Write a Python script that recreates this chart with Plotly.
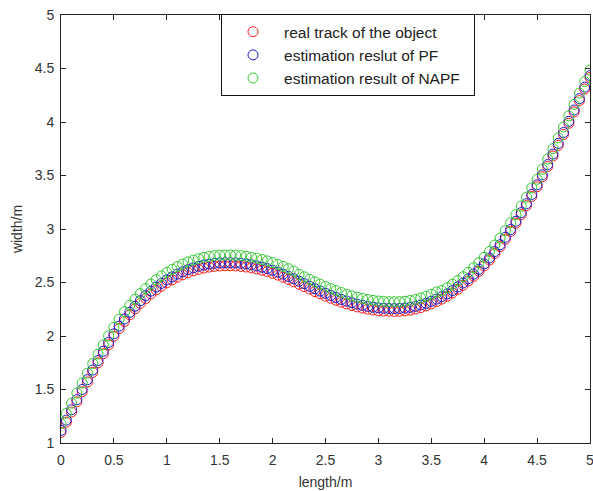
import plotly.graph_objects as go

length_m = [0.00, 0.05, 0.10, 0.15, 0.20, 0.25, 0.30, 0.35, 0.40, 0.45,
            0.50, 0.55, 0.60, 0.65, 0.70, 0.75, 0.80, 0.85, 0.90, 0.95,
            1.00, 1.05, 1.10, 1.15, 1.20, 1.25, 1.30, 1.35, 1.40, 1.45,
            1.50, 1.55, 1.60, 1.65, 1.70, 1.75, 1.80, 1.85, 1.90, 1.95,
            2.00, 2.05, 2.10, 2.15, 2.20, 2.25, 2.30, 2.35, 2.40, 2.45,
            2.50, 2.55, 2.60, 2.65, 2.70, 2.75, 2.80, 2.85, 2.90, 2.95,
            3.00, 3.05, 3.10, 3.15, 3.20, 3.25, 3.30, 3.35, 3.40, 3.45,
            3.50, 3.55, 3.60, 3.65, 3.70, 3.75, 3.80, 3.85, 3.90, 3.95,
            4.00, 4.05, 4.10, 4.15, 4.20, 4.25, 4.30, 4.35, 4.40, 4.45,
            4.50, 4.55, 4.60, 4.65, 4.70, 4.75, 4.80, 4.85, 4.90, 4.95,
            5.00]

real_track = [1.100, 1.195, 1.290, 1.385, 1.479, 1.571, 1.661, 1.749, 1.835, 1.918,
              1.998, 2.070, 2.137, 2.198, 2.254, 2.305, 2.351, 2.393, 2.431, 2.466,
              2.497, 2.525, 2.550, 2.572, 2.592, 2.609, 2.623, 2.635, 2.644, 2.651,
              2.655, 2.657, 2.657, 2.655, 2.651, 2.645, 2.637, 2.627, 2.615, 2.602,
              2.586, 2.569, 2.550, 2.529, 2.507, 2.484, 2.461, 2.438, 2.415, 2.394,
              2.373, 2.353, 2.334, 2.316, 2.300, 2.285, 2.272, 2.261, 2.251, 2.243,
              2.237, 2.233, 2.231, 2.230, 2.231, 2.235, 2.242, 2.252, 2.265, 2.281,
              2.300, 2.322, 2.345, 2.372, 2.403, 2.437, 2.474, 2.515, 2.558, 2.605,
              2.655, 2.710, 2.770, 2.835, 2.905, 2.978, 3.055, 3.135, 3.218, 3.305,
              3.395, 3.488, 3.584, 3.682, 3.782, 3.884, 3.988, 4.094, 4.200, 4.308,
              4.416]

pf_estimate = [1.118, 1.214, 1.311, 1.405, 1.500, 1.592, 1.682, 1.771, 1.857, 1.940,
               2.020, 2.093, 2.160, 2.222, 2.278, 2.330, 2.376, 2.419, 2.457, 2.492,
               2.524, 2.552, 2.578, 2.600, 2.620, 2.637, 2.651, 2.663, 2.672, 2.679,
               2.683, 2.685, 2.685, 2.683, 2.679, 2.673, 2.665, 2.655, 2.643, 2.630,
               2.614, 2.597, 2.578, 2.557, 2.535, 2.512, 2.489, 2.465, 2.442, 2.420,
               2.399, 2.379, 2.360, 2.342, 2.326, 2.311, 2.298, 2.287, 2.277, 2.269,
               2.263, 2.259, 2.257, 2.256, 2.257, 2.261, 2.268, 2.277, 2.290, 2.305,
               2.324, 2.345, 2.368, 2.394, 2.425, 2.458, 2.495, 2.535, 2.578, 2.624,
               2.674, 2.729, 2.789, 2.853, 2.923, 2.996, 3.073, 3.153, 3.236, 3.323,
               3.413, 3.506, 3.602, 3.700, 3.800, 3.902, 4.006, 4.112, 4.218, 4.326,
               4.434]

napf_estimate = [1.182, 1.277, 1.372, 1.467, 1.561, 1.653, 1.743, 1.831, 1.917, 2.001,
                 2.083, 2.158, 2.226, 2.288, 2.345, 2.396, 2.443, 2.486, 2.526, 2.562,
                 2.594, 2.623, 2.649, 2.672, 2.692, 2.709, 2.723, 2.735, 2.744, 2.751,
                 2.755, 2.757, 2.757, 2.755, 2.751, 2.745, 2.737, 2.727, 2.715, 2.702,
                 2.686, 2.669, 2.650, 2.629, 2.606, 2.576, 2.553, 2.529, 2.506, 2.484,
                 2.463, 2.443, 2.424, 2.406, 2.390, 2.375, 2.362, 2.351, 2.341, 2.333,
                 2.327, 2.323, 2.321, 2.320, 2.321, 2.325, 2.332, 2.342, 2.355, 2.371,
                 2.390, 2.412, 2.425, 2.452, 2.483, 2.517, 2.554, 2.595, 2.638, 2.685,
                 2.735, 2.790, 2.850, 2.915, 2.985, 3.058, 3.135, 3.215, 3.298, 3.385,
                 3.465, 3.558, 3.654, 3.752, 3.852, 3.954, 4.058, 4.164, 4.270, 4.378,
                 4.486]

series_names = ["real track of the object", "estimation reslut of PF", "estimation result of NAPF"]
series_colors = ["#ff1a1a", "#1a1acc", "#33c833"]

x_ticks = [0, 0.5, 1, 1.5, 2, 2.5, 3, 3.5, 4, 4.5, 5]
x_tick_labels = ["0", "0.5", "1", "1.5", "2", "2.5", "3", "3.5", "4", "4.5", "5"]
y_ticks = [1, 1.5, 2, 2.5, 3, 3.5, 4, 4.5, 5]
y_tick_labels = ["1", "1.5", "2", "2.5", "3", "3.5", "4", "4.5", "5"]

FONT = "Liberation Sans, Arial, sans-serif"

fig = go.Figure()
for name, ys, col in zip(series_names, [real_track, pf_estimate, napf_estimate], series_colors):
    fig.add_trace(go.Scatter(
        x=length_m, y=ys, mode="markers", name=name + "\u00a0" * 2,
        marker=dict(symbol="circle-open", size=10, color=col, line=dict(width=1, color=col)),
    ))

axis_common = dict(
    showline=True, linecolor="#222222", linewidth=1, mirror="ticks",
    ticks="inside", ticklen=5, tickcolor="#222222", tickwidth=1,
    showgrid=False, zeroline=False, automargin=False,
    ticklabeloverflow="allow",
    tickfont=dict(family=FONT, size=14, color="#333333"),
    title_font=dict(family=FONT, size=14, color="#333333"),
)

fig.update_xaxes(range=[0, 5], tickvals=x_ticks, ticktext=x_tick_labels,
                 ticklabelstandoff=4,
                 title_text="length/m", title_standoff=10, **axis_common)
fig.update_yaxes(range=[1, 5], tickvals=y_ticks, ticktext=y_tick_labels,
                 ticklabelstandoff=3,
                 title_text="width/m", title_standoff=8, **axis_common)

fig.update_layout(
    width=593, height=491,
    margin=dict(l=61, r=3, t=15, b=48, autoexpand=False),
    paper_bgcolor="white", plot_bgcolor="white",
    showlegend=True,
    legend=dict(
        x=0.3025, y=1.002, xanchor="left", yanchor="top",
        bordercolor="#111111", borderwidth=1, bgcolor="white",
        font=dict(family=FONT, size=15.5, color="#222222"),
        itemwidth=52,
    ),
    font=dict(family=FONT),
)

fig.write_html(
    "out.html",
    config={"displayModeBar": False},
    post_script="document.body.style.margin='0';document.documentElement.style.overflow='hidden';",
)
